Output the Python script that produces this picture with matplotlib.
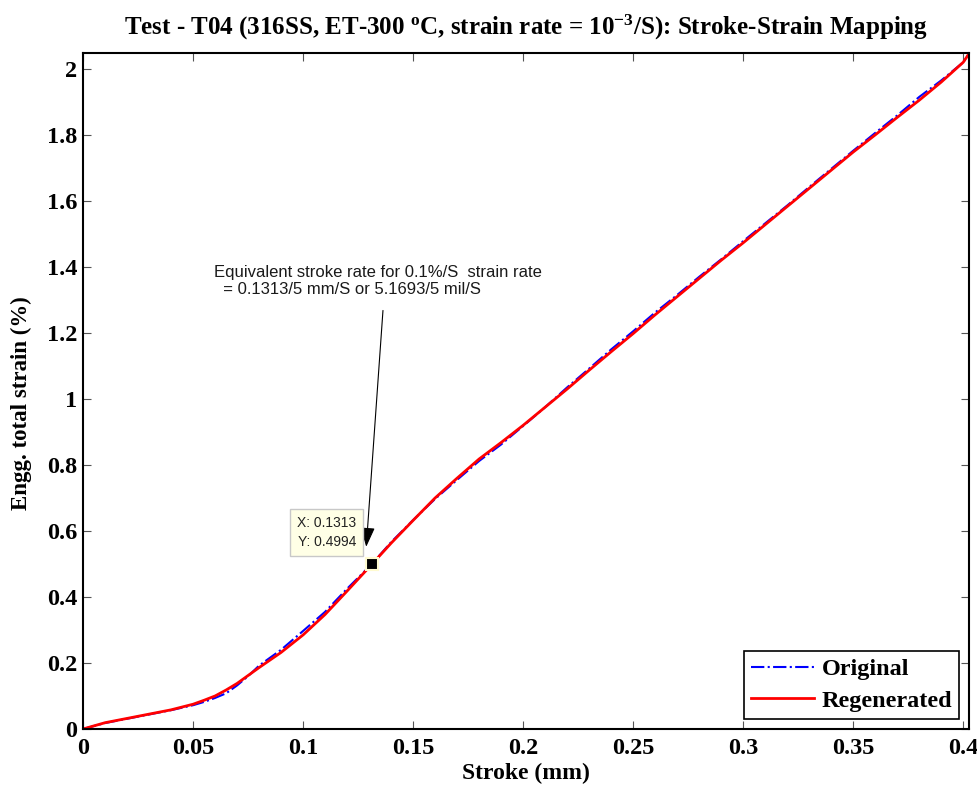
"""Stroke-strain mapping figure (MATLAB-style look)."""

import matplotlib

matplotlib.use("Agg")
import matplotlib.pyplot as plt
import numpy as np

# stroke (mm) and engineering total strain (%)
stroke_orig = [0.0, 0.01, 0.02, 0.03, 0.04, 0.05, 0.055, 0.06, 0.065, 0.07, 0.075,
               0.08, 0.09, 0.10, 0.11, 0.12, 0.1313, 0.14, 0.15, 0.16, 0.17, 0.18,
               0.19, 0.20, 0.21, 0.22, 0.23, 0.24, 0.25, 0.26, 0.27, 0.28, 0.29,
               0.30, 0.31, 0.32, 0.33, 0.34, 0.35, 0.36, 0.37, 0.38, 0.39,
               0.40, 0.403]
strain_orig = [0.0, 0.018, 0.031, 0.044, 0.057, 0.072, 0.082, 0.094, 0.108, 0.132, 0.160,
               0.192, 0.240, 0.297, 0.355, 0.425, 0.5000, 0.566, 0.633, 0.697, 0.755, 0.812,
               0.862, 0.918, 0.975, 1.035, 1.092, 1.150, 1.205, 1.262, 1.315, 1.370, 1.423,
               1.478, 1.532, 1.586, 1.642, 1.697, 1.752, 1.806, 1.859, 1.915, 1.965,
               2.020, 2.050]

stroke_regen = [0.0, 0.01, 0.02, 0.03, 0.04, 0.05, 0.055, 0.06, 0.065, 0.07, 0.075,
                0.08, 0.09, 0.10, 0.11, 0.12, 0.1313, 0.14, 0.15, 0.16, 0.17, 0.18,
                0.19, 0.20, 0.21, 0.22, 0.23, 0.24, 0.25, 0.26, 0.27, 0.28, 0.29,
                0.30, 0.31, 0.32, 0.33, 0.34, 0.35, 0.36, 0.37, 0.38, 0.39,
                0.40, 0.403]
strain_regen = [0.0, 0.019, 0.032, 0.045, 0.058, 0.075, 0.087, 0.100, 0.118, 0.138, 0.162,
                0.186, 0.232, 0.285, 0.347, 0.418, 0.4994, 0.563, 0.632, 0.700, 0.760, 0.818,
                0.868, 0.920, 0.975, 1.030, 1.087, 1.143, 1.198, 1.255, 1.310, 1.365, 1.420,
                1.473, 1.528, 1.583, 1.638, 1.693, 1.748, 1.800, 1.853, 1.905, 1.960,
                2.020, 2.050]

tip_x, tip_y = 0.1313, 0.4994

xticks = [0, 0.05, 0.1, 0.15, 0.2, 0.25, 0.3, 0.35, 0.4]
xtick_labels = ["0", "0.05", "0.1", "0.15", "0.2", "0.25", "0.3", "0.35", "0.4"]
yticks = [0, 0.2, 0.4, 0.6, 0.8, 1.0, 1.2, 1.4, 1.6, 1.8, 2.0]
ytick_labels = ["0", "0.2", "0.4", "0.6", "0.8", "1", "1.2", "1.4", "1.6", "1.8", "2"]

serif = ["Liberation Serif", "DejaVu Serif"]
sans = ["Liberation Sans", "DejaVu Sans"]
plt.rcParams["mathtext.fontset"] = "custom"
plt.rcParams["mathtext.rm"] = "Liberation Serif:bold"
plt.rcParams["mathtext.it"] = "Liberation Serif:bold"
plt.rcParams["mathtext.bf"] = "Liberation Serif:bold"

fig = plt.figure(figsize=(9.77, 7.88), dpi=100)
ax = fig.add_axes([0.085, 0.0749, 0.907, 0.8578])

ax.plot(stroke_orig, strain_orig, color="blue", linestyle="-.", linewidth=1.5,
        label="Original")
ax.plot(stroke_regen, strain_regen, color="red", linestyle="-", linewidth=2.0,
        label="Regenerated")

# data tip
ax.plot([tip_x], [tip_y], marker="s", markersize=8, color="black",
        markeredgecolor="#fffbd0", markeredgewidth=1.5, zorder=5)
ax.text(0.1241, 0.545, "X: 0.1313\nY: 0.4994", ha="right", va="bottom",
        fontsize=10, family=sans, color="#222222", linespacing=1.45,
        bbox=dict(boxstyle="square,pad=0.5", facecolor="#ffffe6",
                  edgecolor="#c8c8c8", linewidth=1.0), zorder=6)

ax.annotate("", xy=(0.1287, 0.552), xytext=(0.1363, 1.268),
            arrowprops=dict(arrowstyle="-|>,head_length=1.2,head_width=0.45",
                            color="black", linewidth=0.8, shrinkA=0, shrinkB=0))
ax.text(0.0595, 1.405,
        "Equivalent stroke rate for 0.1%/S  strain rate\n"
        "  = 0.1313/5 mm/S or 5.1693/5 mil/S",
        ha="left", va="top", fontsize=12, family=sans, color="#1a1a1a",
        linespacing=1.15)

ax.set_xlim(0, 0.4027)
ax.set_ylim(0, 2.048)
ax.set_xticks(xticks)
ax.set_xticklabels(xtick_labels)
ax.set_yticks(yticks)
ax.set_yticklabels(ytick_labels)
for lab in ax.get_xticklabels() + ax.get_yticklabels():
    lab.set_family(serif)
    lab.set_fontweight("bold")
    lab.set_fontsize(17.5)
ax.tick_params(direction="in", length=5.5, width=0.8, top=True, right=True,
               color="#555555", pad=4)
ax.tick_params(axis="x", pad=6.5)
for sp in ax.spines.values():
    sp.set_linewidth(1.5)

ax.set_xlabel("Stroke (mm)", family=serif, fontweight="bold", fontsize=17, labelpad=3)
ax.set_ylabel("Engg. total strain (%)", family=serif, fontweight="bold", fontsize=16.5)
ax.yaxis.set_label_coords(-0.058, 0.482)
ax.set_title("Test - T04 (316SS, ET-300 $^{\\mathrm{o}}$C, strain rate = "
             "10$^{\\mathrm{-3}}$/S): Stroke-Strain Mapping",
             family=serif, fontweight="bold", fontsize=18, pad=13)

leg = ax.legend(loc="lower right", prop={"family": serif, "weight": "bold", "size": 17.5},
                fancybox=False, edgecolor="black", framealpha=1.0, borderaxespad=0.4,
                handlelength=2.6, handletextpad=0.3, borderpad=0.3, labelspacing=0.4)
leg.get_frame().set_linewidth(1.2)

fig.savefig("out.png", dpi=100)
